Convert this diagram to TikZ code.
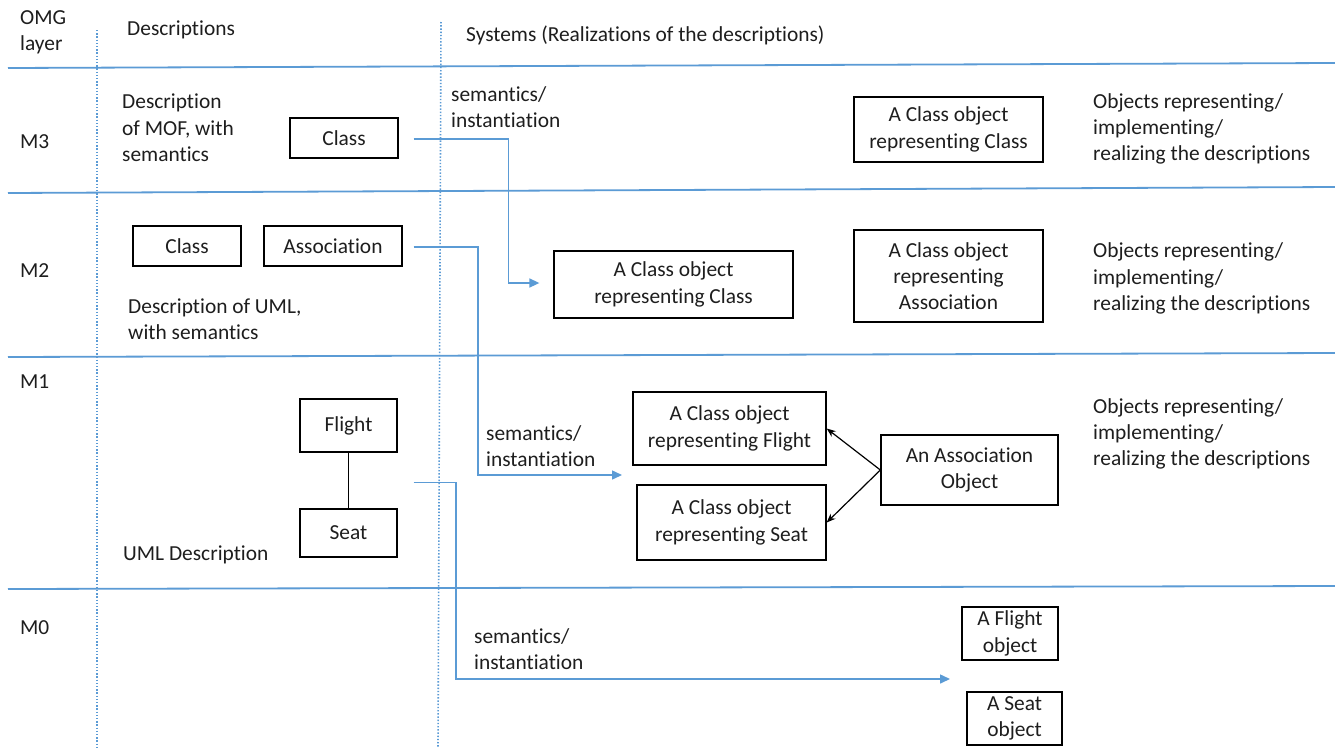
\documentclass[tikz,border=0pt]{standalone}
\usepackage{fontspec}
\setmainfont{Carlito}[Ligatures=NoCommon]
\usetikzlibrary{arrows.meta,calc}
\definecolor{lineblue}{RGB}{91,155,213}
\definecolor{txt}{RGB}{30,30,30}
\tikzset{
  every node/.style={font=\fontsize{21.4}{26.3}\selectfont, text=txt},
  lbl/.style={anchor=west, align=left, inner sep=0pt},
  box/.style={draw=black, line width=1.3pt, align=center, inner sep=2pt},
  layerline/.style={draw=lineblue, line width=1.8pt},
  colline/.style={draw=lineblue, line width=1.6pt, dash pattern=on 1.4pt off 1.8pt},
  conn/.style={draw=lineblue, line width=1.5pt, -{Triangle[length=10pt,width=9pt]}},
  assoc/.style={draw=black, line width=1.2pt, -{Stealth[length=9pt,width=7pt]}}
}
\begin{document}
\begin{tikzpicture}[x=1pt,y=-1pt]
\useasboundingbox (0,0) rectangle (1335,747);
\fill[white] (0,0) rectangle (1335,747);

% layer lines
\draw[layerline] (8,68) -- (1335,63);
\draw[layerline] (8,193) -- (1335,187);
\draw[layerline] (8,357) -- (1335,353);
\draw[layerline] (8,589) -- (1335,586);
% column lines
\draw[colline] (97,30) -- (97,747);
\draw[colline] (441,22) -- (438,747);

% headers
\node[lbl] (hlayer) at (20,32.5) {OMG\\layer};
\node[lbl] (hdesc) at (127,30) {Descriptions};
\node[lbl] (hsys) at (466,35) {Systems (Realizations of the descriptions)};
\node[lbl] (m3) at (20,142) {M3};
\node[lbl] (m2) at (20,271) {M2};
\node[lbl] (m1) at (20,382) {M1};
\node[lbl] (m0) at (20,628) {M0};

% M3
\node[lbl] (d3) at (122,128) {Description\\of MOF, with\\semantics};
\node[box, minimum width=108pt, minimum height=40pt] (m3class) at (344,138) {Class};
\node[lbl] (s3) at (451,107) {semantics/\\instantiation};
\node[box, minimum width=189pt, minimum height=65pt] (m3obj) at (948.5,129.5) {A Class object\\representing Class};
\node[lbl] (o3) at (1093,129) {Objects representing/\\implementing/\\realizing the descriptions};

% M2
\node[box, minimum width=108pt, minimum height=40pt] (m2class) at (187,246) {Class};
\node[box, minimum width=138pt, minimum height=40pt] (m2assoc) at (333,246) {Association};
\node[lbl] (d2) at (128,319) {Description of UML,\\with semantics};
\node[box, minimum width=239pt, minimum height=67pt] (m2obj1) at (673.5,284.5) {A Class object\\representing Class};
\node[box, minimum width=189pt, minimum height=92pt] (m2obj2) at (948.5,276) {A Class object\\representing\\Association};
\node[lbl] (o2) at (1093,278.5) {Objects representing/\\implementing/\\realizing the descriptions};

% M1
\node[box, minimum width=97pt, minimum height=53pt] (flight) at (348.5,425.5) {Flight};
\node[box, minimum width=97pt, minimum height=48pt] (seat) at (348.5,533) {Seat};
\node[lbl] (d1) at (123,554.5) {UML Description};
\node[lbl] (s1) at (486,446) {semantics/\\instantiation};
\node[box, minimum width=193pt, minimum height=73pt] (m1flight) at (729.5,428.5) {A Class object\\representing Flight};
\node[box, minimum width=189pt, minimum height=75pt] (m1seat) at (731.5,522.5) {A Class object\\representing Seat};
\node[box, minimum width=177pt, minimum height=70pt] (m1assoc) at (969.5,470) {An Association\\Object};
\node[lbl] (o1) at (1093,434) {Objects representing/\\implementing/\\realizing the descriptions};

% M0
\node[lbl] (s0) at (474,649) {semantics/\\instantiation};
\node[box, minimum width=96pt, minimum height=53pt] (m0flight) at (1010,633.5) {A Flight\\object};
\node[box, minimum width=95pt, minimum height=53pt] (m0seat) at (1014.5,718.5) {A Seat\\object};

% connectors
\draw[black, line width=1.3pt] (flight.south) -- (seat.north);
\draw[assoc] (m1assoc.west) -- (m1flight.east);
\draw[assoc] (m1assoc.west) -- (m1seat.east);

\draw[conn] ([xshift=15pt,yshift=-1pt]m3class.east) -- ++(95,0) |- ([xshift=-14pt,yshift=1.5pt]m2obj1.west);
\coordinate (t2) at (622,475);
\draw[conn] ([xshift=11pt,yshift=-1pt]m2assoc.east) -| (478,475) -- (t2);
\coordinate (t3) at (950,679);
\draw[conn] ($(flight.east)!0.5!(seat.east)+(16,3)$) -| (456,679) -- (t3);
\end{tikzpicture}
\end{document}
